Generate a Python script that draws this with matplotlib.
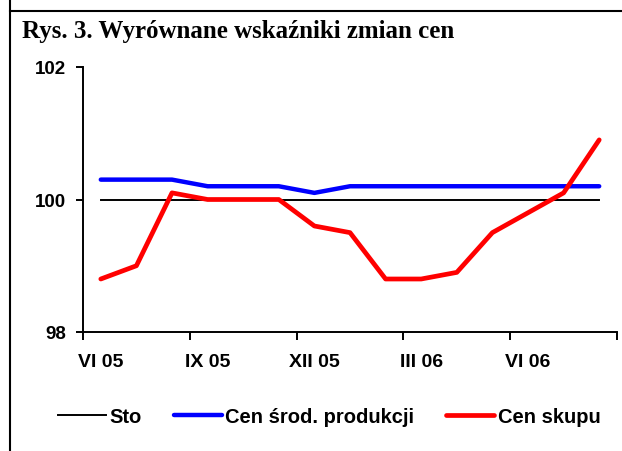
import numpy as np
import matplotlib.pyplot as plt
from matplotlib.lines import Line2D

months = ["VI 05", "VII 05", "VIII 05", "IX 05", "X 05", "XI 05", "XII 05",
          "I 06", "II 06", "III 06", "IV 06", "V 06", "VI 06", "VII 06", "VIII 06"]
sto = [100.0] * 15
srod_produkcji = [100.3, 100.3, 100.3, 100.2, 100.2, 100.2, 100.1, 100.2,
                  100.2, 100.2, 100.2, 100.2, 100.2, 100.2, 100.2]
skupu = [98.8, 99.0, 100.1, 100.0, 100.0, 100.0, 99.6, 99.5,
         98.8, 98.8, 98.9, 99.5, 99.8, 100.1, 100.9]
label_every = 3

plt.rcParams["font.family"] = ["Liberation Sans", "DejaVu Sans"]
plt.rcParams["font.weight"] = "bold"

fig = plt.figure(figsize=(6.22, 4.52), dpi=100)
ax = fig.add_axes([83 / 622, 1 - 333 / 452, 534 / 622, 265 / 452])

x = np.arange(len(months))
ax.plot(x, sto, color="black", lw=1.4, label="Sto")
ax.plot(x, srod_produkcji, color="#0000ff", lw=3.2, label="Cen środ. produkcji",
        solid_capstyle="round")
ax.plot(x, skupu, color="#ff0000", lw=3.4, label="Cen skupu",
        solid_capstyle="round")

ax.set_xlim(-0.5, len(months) - 0.5)
ax.set_ylim(98, 102)
ax.set_yticks([98, 100, 102])
ax.set_xticks(np.arange(-0.5, len(months), label_every))
ax.set_xticklabels([])
ax.set_xticks(x[::label_every], minor=True)
ax.set_xticklabels(months[::label_every], minor=True)
ax.tick_params(axis="x", which="minor", length=0, pad=15, labelsize=14)
ax.tick_params(axis="x", which="major", length=6, width=1.4, direction="out")
ax.tick_params(axis="y", length=5, width=1.4, direction="out", labelsize=13.5, pad=7)

for side in ["top", "right"]:
    ax.spines[side].set_visible(False)
for side in ["left", "bottom"]:
    ax.spines[side].set_linewidth(1.4)

fig.text(22 / 622, 1 - 38 / 452, "Rys. 3. Wyrównane wskaźniki zmian cen",
         family="Liberation Serif", fontsize=18, weight="bold", va="baseline")

fig.add_artist(Line2D([9.5 / 622, 9.5 / 622], [0, 1], color="black", lw=1.5,
                      transform=fig.transFigure))
fig.add_artist(Line2D([9.5 / 622, 1], [1 - 12 / 452, 1 - 12 / 452], color="black",
                      lw=1.5, transform=fig.transFigure))

fig.legend(loc="center", bbox_to_anchor=(329 / 622, 1 - 418 / 452), ncol=3,
           frameon=False, fontsize=14.5, handlelength=2.4, handletextpad=0.15,
           columnspacing=1.6)

fig.savefig("out.png", dpi=100)
